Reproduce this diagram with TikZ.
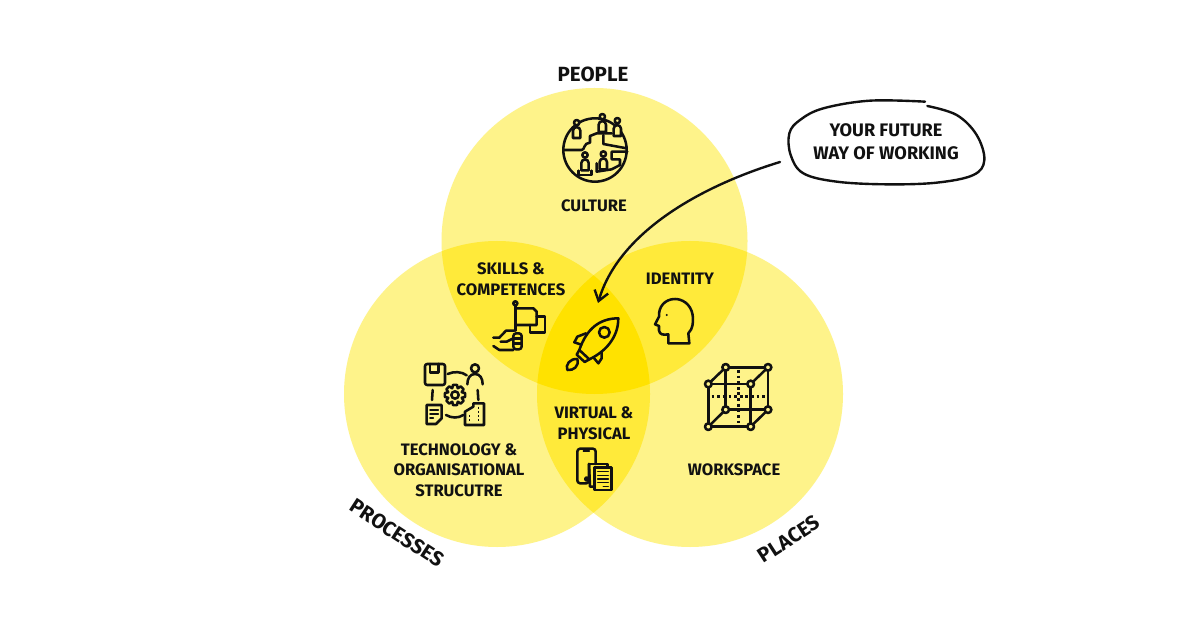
\documentclass[tikz,border=0pt]{standalone}
\usepackage{fontspec}
\setmainfont{Fira Sans}
\usetikzlibrary{arrows.meta}
\definecolor{venna}{HTML}{FEF38A}
\definecolor{vennb}{HTML}{FFEA3A}
\definecolor{vennc}{HTML}{FFE200}
\definecolor{inkline}{HTML}{111111}
\tikzset{
	sqlabel/.style={align=center,text=inkline,font=\fontsize{11.8}{14.6}\selectfont\bfseries},
	setlabel/.style={text=inkline,font=\fontsize{14.6}{18}\selectfont\bfseries},
	iconline/.style={draw=inkline,line width=1.8pt,line join=round,line cap=round},
	thinline/.style={draw=inkline,line width=1.1pt,line cap=round},
	sketchline/.style={draw=inkline,line width=1.7pt,line cap=round}
}
\begin{document}
\begin{tikzpicture}[x=0.025cm,y=-0.025cm]
	\useasboundingbox[fill=white] (0,0) rectangle (1200,628);
	\coordinate (peoplemid) at (594.5,241);
	\coordinate (processmid) at (497,394);
	\coordinate (placemid) at (690,394);
	% the three sets and their overlaps
	\fill[venna] (peoplemid) circle (153);
	\fill[venna] (processmid) circle (153);
	\fill[venna] (placemid) circle (153);
	\begin{scope}
		\clip (peoplemid) circle (153);
		\fill[vennb] (processmid) circle (153);
		\fill[vennb] (placemid) circle (153);
	\end{scope}
	\begin{scope}
		\clip (processmid) circle (153);
		\fill[vennb] (placemid) circle (153);
		\clip (placemid) circle (153);
		\fill[vennc] (peoplemid) circle (153);
	\end{scope}
	% labels
	\node[setlabel] (people) at (593,74) {PEOPLE};
	\node[setlabel,rotate=-33] (processes) at (397,533) {PROCESSES};
	\node[setlabel,rotate=33] (places) at (789,539) {PLACES};
	\node[sqlabel] (culture) at (594,206) {CULTURE};
	\node[sqlabel] (skills) at (511,279) {SKILLS \&\\COMPETENCES};
	\node[sqlabel] (identity) at (680,279) {IDENTITY};
	\node[sqlabel] (virtual) at (594,423) {VIRTUAL \&\\PHYSICAL};
	\node[sqlabel] (technology) at (459,470) {TECHNOLOGY \&\\ORGANISATIONAL\\STRUCUTRE};
	\node[sqlabel] (workspace) at (734,470) {WORKSPACE};
	\node[sqlabel,font=\fontsize{12.9}{16.2}\selectfont\bfseries] (future) at (886,142) {YOUR FUTURE\\WAY OF WORKING};
	% culture icon
	\begin{scope}[shift={(540,100)},scale=1/3]
		\draw[iconline] (165,150) circle (95);
		\draw[iconline] (72,150) -- (125,150) .. controls (135,150) and (130,128) .. (150,128) -- (150,108) -- (170,100) -- (215,100);
		\draw[iconline] (190,105) -- (190,132) -- (260,145);
		\draw[iconline] (262,155) -- (215,155) -- (215,178) -- (240,178) -- (240,195) -- (215,208) -- (170,215) -- (170,190);
		\foreach \px/\py in {110/68,187/50,232/62,135/165,190/162}{
			\draw[iconline,fill=venna] (\px-11,\py+46) -- (\px-11,\py+24) .. controls (\px-11,\py+10) and (\px+11,\py+10) .. (\px+11,\py+24) -- (\px+11,\py+46) -- cycle;
			\draw[iconline,fill=venna] (\px,\py) circle (8);
		}
		\draw[iconline] (115,212) -- (115,225) -- (155,225) -- (155,212);
	\end{scope}
	% flag icon
	\begin{scope}[shift={(480,290)},scale=1/3]
		\draw[iconline] (106,47) -- (106,122);
		\draw[iconline] (106,40) circle (6);
		\draw[iconline] (106,55) -- (160,55) -- (170,65) -- (170,105) -- (106,105);
		\draw[iconline] (170,80) -- (195,80) -- (195,127) -- (150,127) -- (150,105);
		\draw[iconline] (40,143) -- (58,143) -- (78,122) -- (103,122);
		\draw[iconline] (40,168) -- (58,180) -- (100,180);
		\draw[iconline,rounded corners=2] (100,130) rectangle (125,178);
		\draw[iconline] (100,145) -- (125,145) (100,160) -- (125,160);
		\draw[iconline] (62,155) -- (80,155) -- (100,145);
	\end{scope}
	% rocket icon
	\begin{scope}[shift={(480,290)},scale=1/3]
		\draw[iconline] (415,85) .. controls (360,85) and (320,115) .. (298,180) -- (328,208) .. controls (390,178) and (415,130) .. (415,85) -- cycle;
		\draw[iconline] (373,127) circle (16);
		\draw[iconline] (318,130) -- (292,140) -- (283,157) -- (304,164);
		\draw[iconline] (365,185) -- (365,205) -- (355,220) -- (340,202);
		\draw[iconline] (298,180) -- (290,194) -- (314,216) -- (328,208);
		\draw[iconline] (292,207) .. controls (270,205) and (255,225) .. (262,240) .. controls (280,242) and (298,230) .. (292,207) -- cycle;
	\end{scope}
	% head icon
	\begin{scope}[shift={(480,290)},scale=1/3]
		\draw[iconline] (565,160) -- (628,160) -- (625,130) .. controls (640,115) and (640,95) .. (638,75) .. controls (632,40) and (605,27) .. (585,27) .. controls (555,27) and (535,50) .. (537,80) -- (525,103) -- (537,108) -- (537,122) .. controls (540,135) and (550,135) .. (565,133) -- cycle;
		\fill[inkline] (560,75) circle (3.5);
	\end{scope}
	% process icon
	\begin{scope}[shift={(410,350)},scale=1/3]
		\draw[iconline,rounded corners=1.5] (45,42) rectangle (105,105);
		\draw[iconline] (60,42) -- (60,68) -- (85,68) -- (85,42);
		\draw[iconline] (195,55) circle (12);
		\draw[iconline] (172,103) .. controls (172,85) and (180,72) .. (195,72) .. controls (210,72) and (218,85) .. (218,103);
		\draw[iconline] (113,72) .. controls (130,64) and (155,64) .. (170,76);
		\draw[iconline] (68,120) -- (66,150);
		\draw[iconline] (203,120) -- (205,150);
		\draw[iconline] (108,195) .. controls (125,205) and (145,205) .. (160,195);
		\draw[iconline] (50,165) -- (95,165) -- (95,205) -- (78,222) -- (50,222) -- cycle;
		\draw[thinline] (60,180) -- (85,180) (60,192) -- (85,192) (60,204) -- (70,204);
		\draw[iconline] (165,225) -- (165,185) -- (190,170) -- (190,160) -- (222,160) -- (222,225) -- cycle;
		\draw[thinline,dash pattern=on 1.5pt off 1.5pt,line cap=butt] (206,170) -- (206,218) (178,195) -- (178,218);
		\begin{scope}[shift={(135,135)}]
			\draw[iconline] \foreach \a in {0,45,...,315}{(\a-22:22) -- (\a-11:31) -- (\a+11:31) -- (\a+22:22) -- (\a+23:22)};
			\draw[iconline] (0,0) circle (11);
		\end{scope}
	\end{scope}
	% device icon
	\begin{scope}[shift={(560,350)},scale=1/3]
		\draw[iconline,rounded corners=2] (87,342) -- (87,400) -- (52,400) -- (52,296) -- (107,296) -- (107,342);
		\draw[thinline] (70,303) -- (88,303);
		\draw[iconline] (80,387) circle (5);
		\draw[iconline] (87,342) -- (142,342) -- (142,352);
		\draw[iconline] (87,342) -- (90,410) -- (103,410);
		\draw[iconline] (103,352) -- (155,352) -- (155,420) -- (103,420) -- cycle;
		\draw[thinline] (113,365) -- (145,365) (113,376) -- (145,376) (113,387) -- (145,387) (113,398) -- (145,398) (130,409) -- (145,409);
	\end{scope}
	% cube icon
	\begin{scope}[shift={(560,350)},scale=1/3]
		\draw[iconline] (445,102) rectangle (572,230);
		\draw[iconline] (497,52) rectangle (624,179);
		\draw[iconline] (445,102) -- (497,52) (572,102) -- (624,52) (445,230) -- (497,179) (572,230) -- (624,179);
		\draw[iconline,line cap=butt,dash pattern=on 2pt off 2pt] (535,60) -- (535,222) (455,140) -- (615,140);
		\foreach \cx/\cy in {445/102,572/102,445/230,572/230,497/52,624/52,497/179,624/179}
			\draw[iconline,fill=venna] (\cx,\cy) circle (10);
	\end{scope}
	% bubble and arrow
	\begin{scope}[shift={(770,90)},scale=1/3]
		\draw[sketchline] plot[smooth,tension=0.6] coordinates {(465,35) (300,32) (160,55) (90,90) (58,130) (62,195) (100,250) (200,275) (350,283) (500,278) (610,255) (643,210) (620,135) (560,75) (472,48)};
	\end{scope}
	\coordinate (arrowstart) at (780,162);
	\coordinate (arrowtip) at (598,303);
	\draw[sketchline,-{Straight Barb[length=7pt,width=10pt]}] (arrowstart) .. controls (695,188) and (618,235) .. (arrowtip);
\end{tikzpicture}
\end{document}
